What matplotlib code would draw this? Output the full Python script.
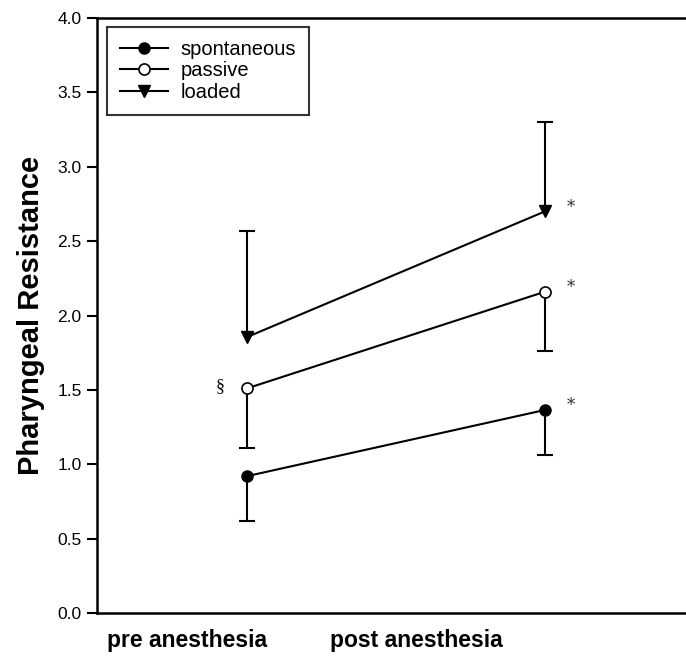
import numpy as np
import matplotlib
matplotlib.use("Agg")
import matplotlib.pyplot as plt

plt.rcParams['font.family'] = ['Liberation Sans', 'DejaVu Sans']

# данные
conditions = ["pre anesthesia", "post anesthesia"]
x_pos = [1, 2]
series_names = ["spontaneous", "passive", "loaded"]
spontaneous = [0.92, 1.365]
spontaneous_err = [-0.30, -0.30]    # вниз
passive = [1.51, 2.16]
passive_err = [-0.40, -0.40]        # вниз
loaded = [1.855, 2.70]
loaded_err = [0.71, 0.60]           # вверх
post_marks = ["*", "*", "*"]
pre_mark = "§"

fig = plt.figure(figsize=(6.86, 6.62), dpi=100)
ax = fig.add_axes([97 / 686, 49 / 662, 1 - 97 / 686, 595 / 662])


# односторонние усы: вертикальная линия + засечка только на конце
def one_sided(xs, ys, errs):
    ends = np.array(ys) + np.array(errs)
    ax.vlines(xs, ys, ends, color='black', lw=1.5, zorder=1)
    ax.plot(xs, ends, ls='none', marker='_', ms=11, mew=1.5, color='black', zorder=1)


one_sided(x_pos, spontaneous, spontaneous_err)
one_sided(x_pos, passive, passive_err)
one_sided(x_pos, loaded, loaded_err)

ax.plot(x_pos, spontaneous, '-o', color='black', lw=1.5, ms=8,
        mfc='black', mec='black', label=series_names[0], zorder=3)
ax.plot(x_pos, passive, '-o', color='black', lw=1.5, ms=8,
        mfc='white', mec='black', mew=1.2, label=series_names[1], zorder=3)
ax.plot(x_pos, loaded, '-v', color='black', lw=1.5, ms=8,
        mfc='black', mec='black', label=series_names[2], zorder=3)

# звёздочки у послеоперационных точек
for yv, m in zip([spontaneous[1], passive[1], loaded[1]], post_marks):
    ax.annotate(m, (x_pos[1], yv), xytext=(19, 3), textcoords='offset points',
                fontsize=12, family='DejaVu Serif', ha='center', va='center', color='#333333')
ax.annotate(pre_mark, (x_pos[0], passive[0]), xytext=(-19, 1), textcoords='offset points',
            fontsize=13, family='Liberation Serif', ha='center', va='center')

ax.set_xlim(1 - 150 / 298, 1 - 150 / 298 + 589 / 298)
ax.set_ylim(0, 4.0)
ax.set_yticks(np.arange(0, 4.01, 0.5))
ax.set_yticklabels([f"{v:.1f}" for v in np.arange(0, 4.01, 0.5)], fontsize=12.5)
ax.set_xticks([])
ax.tick_params(axis='y', direction='out', length=7, width=1.5, pad=4)

for side in ['left', 'top', 'bottom']:
    ax.spines[side].set_linewidth(1.8)
ax.spines['right'].set_visible(False)

ax.set_ylabel("Pharyngeal Resistance", fontsize=21, fontweight='bold')
ax.yaxis.set_label_coords(-0.088, 0.5)

# подписи условий под осью
for lab, fx in zip(conditions, [0.153, 0.5416]):
    ax.text(fx, -0.047, lab, transform=ax.transAxes, ha='center', va='center',
            fontsize=16.5, fontweight='bold')

leg = ax.legend(loc='upper left', bbox_to_anchor=(0.017, 0.985), fontsize=14.5,
                frameon=True, fancybox=False, edgecolor='black', handlelength=2.4,
                labelspacing=0.12, borderpad=0.65, handletextpad=0.6, borderaxespad=0)
leg.get_frame().set_linewidth(1.5)

fig.savefig("out.png", dpi=100)
